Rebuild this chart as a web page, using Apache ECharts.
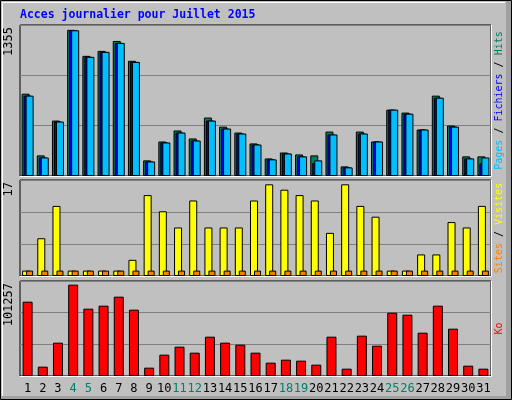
<!DOCTYPE html>
<html>
<head>
<meta charset="utf-8">
<script src="https://cdn.jsdelivr.net/npm/echarts@6/dist/echarts.min.js"></script>
<style>
  html, body { margin: 0; padding: 0; background: #c0c0c0; }
  #chart { width: 512px; height: 400px; }
</style>
</head>
<body>
<div id="chart"></div>
<script>
// Days of July 2015, weekend days drawn in green
const days = ['1','2','3','4','5','6','7','8','9','10','11','12','13','14','15','16',
  '17','18','19','20','21','22','23','24','25','26','27','28','29','30','31'];
const weekend = ['4','5','11','12','18','19','25','26'];

// Top panel
const hits = [763,191,514,1355,1114,1160,1252,1068,145,320,422,348,542,458,403,302,
  163,218,200,191,412,89,412,320,615,588,431,745,468,182,182];
const files = [745,172,505,1351,1105,1151,1234,1058,135,311,403,329,514,440,394,292,
  154,209,182,120,385,80,394,320,615,578,431,726,458,163,117];
const pages = [745,172,505,1351,1105,1151,1234,1058,135,311,403,329,514,440,394,292,
  154,209,182,145,385,80,394,320,615,578,431,726,458,163,172];

// Middle panel
const visits = [1,7,13,1,1,1,1,3,15,12,9,14,9,9,9,14,17,16,15,14,8,17,13,11,1,1,4,4,10,9,13];
const sites = [1,1,1,1,1,1,1,1,1,1,1,1,1,1,1,1,1,1,1,1,1,1,1,1,1,1,1,1,1,1,1];

// Bottom panel (Ko)
const kbytes = [82400,10350,36950,101257,74640,77960,87940,73530,9240,23650,32520,25870,
  43600,36950,34730,25870,14780,18100,17000,12560,43600,8130,44710,33620,70200,67990,
  48030,77960,52470,11450,8130];

const maxLabels = ['1355', '17', '101257'];

const chart = echarts.init(document.getElementById('chart'));
const mono = 'DejaVu Sans Mono';

const panels = [
  { top: 25, height: 151, max: 1400 },
  { top: 180, height: 96, max: 17.8 },
  { top: 281, height: 95, max: 105322 }
];

function yAx(i) {
  const p = panels[i];
  return {
    gridIndex: i, type: 'value', min: 0, max: p.max, interval: p.max / 3,
    axisLabel: { show: false }, axisLine: { show: false }, axisTick: { show: false },
    splitLine: { lineStyle: { color: '#808080', width: 1 } }
  };
}
function xAx(i, showLabels) {
  return {
    gridIndex: i, type: 'category', data: days,
    axisLine: { show: false }, axisTick: { show: false },
    axisLabel: {
      show: showLabels, interval: 0, margin: 7,
      fontFamily: mono, fontSize: 12,
      formatter: v => weekend.includes(v) ? '{w|' + v + '}' : '{n|' + v + '}',
      rich: { w: { color: '#00806b', fontFamily: mono, fontSize: 12 },
              n: { color: '#000', fontFamily: mono, fontSize: 12 } }
    }
  };
}
const edge = { borderColor: '#000', borderWidth: 1 };

const graphics = [
  { type: 'rect', shape: { x: 0.5, y: 0.5, width: 511, height: 399 }, style: { fill: 'none', stroke: '#000' } },
  { type: 'polyline', shape: { points: [[2.5, 396], [2.5, 2.5], [505, 2.5]] }, style: { stroke: '#fff', fill: 'none' } },
  { type: 'rect', shape: { x: 506, y: 1, width: 5, height: 398 }, style: { fill: '#a0a0a0' } },
  { type: 'rect', shape: { x: 1, y: 396, width: 510, height: 3 }, style: { fill: '#a0a0a0' } },
  { type: 'text', x: 20, y: 9, style: { text: 'Acces journalier pour Juillet 2015', fill: '#0000ff',
      font: 'bold 11.5px "DejaVu Sans Mono"' } }
];
panels.forEach((p, i) => {
  graphics.push({ type: 'polyline', z: 10, shape: { points: [[491.5, p.top], [491.5, p.top + p.height + 0.5], [20, p.top + p.height + 0.5]] },
    style: { stroke: '#fff', fill: 'none', lineWidth: 1 } });
  graphics.push({ type: 'text', x: 9, y: p.top + 2, rotation: Math.PI / 2,
    style: { text: maxLabels[i], fill: '#000', font: '12px "DejaVu Sans Mono"', align: 'right', verticalAlign: 'middle' } });
});
const rightLabels = [
  [['Pages', '#00bfff'], [' / ', '#000'], ['Fichiers', '#0000ff'], [' / ', '#000'], ['Hits', '#007f5f']],
  [['Sites', '#ff8000'], [' / ', '#000'], ['Visites', '#ffff00']],
  [['Ko', '#ff0000']]
];
rightLabels.forEach((parts, i) => {
  const p = panels[i];
  const rich = {};
  parts.forEach((pt, k) => { rich['r' + k] = { fill: pt[1], font: '10px "DejaVu Sans Mono"' }; });
  graphics.push({ type: 'text', x: 499, y: p.top + p.height / 2, rotation: Math.PI / 2,
    style: { text: parts.map((pt, k) => '{r' + k + '|' + pt[0] + '}').join(''), rich: rich,
      align: 'center', verticalAlign: 'middle' } });
});

chart.setOption({
  backgroundColor: '#c0c0c0',
  animation: false,
  grid: panels.map(p => ({ left: 20, right: 21, top: p.top, height: p.height, show: true,
    borderColor: '#000', borderWidth: 1, backgroundColor: 'transparent' })),
  xAxis: [xAx(0, false), xAx(1, false), xAx(2, true)],
  yAxis: [yAx(0), yAx(1), yAx(2)],
  series: [
    { type: 'bar', name: 'Hits', data: hits, xAxisIndex: 0, yAxisIndex: 0, barWidth: 8, barGap: '-75%',
      itemStyle: Object.assign({ color: '#007f5f' }, edge) },
    { type: 'bar', name: 'Fichiers', data: files, xAxisIndex: 0, yAxisIndex: 0, barWidth: 8, barGap: '-75%',
      itemStyle: Object.assign({ color: '#0000ff' }, edge) },
    { type: 'bar', name: 'Pages', data: pages, xAxisIndex: 0, yAxisIndex: 0, barWidth: 8, barGap: '-75%',
      itemStyle: Object.assign({ color: '#00bfff' }, edge) },
    { type: 'bar', name: 'Visites', data: visits, xAxisIndex: 1, yAxisIndex: 1, barWidth: 8, barGap: '-50%',
      itemStyle: Object.assign({ color: '#ffff00' }, edge) },
    { type: 'bar', name: 'Sites', data: sites, xAxisIndex: 1, yAxisIndex: 1, barWidth: 7, barGap: '-50%',
      itemStyle: Object.assign({ color: '#ff8000' }, edge) },
    { type: 'bar', name: 'Ko', data: kbytes, xAxisIndex: 2, yAxisIndex: 2, barWidth: 10,
      itemStyle: Object.assign({ color: '#ff0000' }, edge) }
  ],
  graphic: graphics
});
</script>
</body>
</html>
